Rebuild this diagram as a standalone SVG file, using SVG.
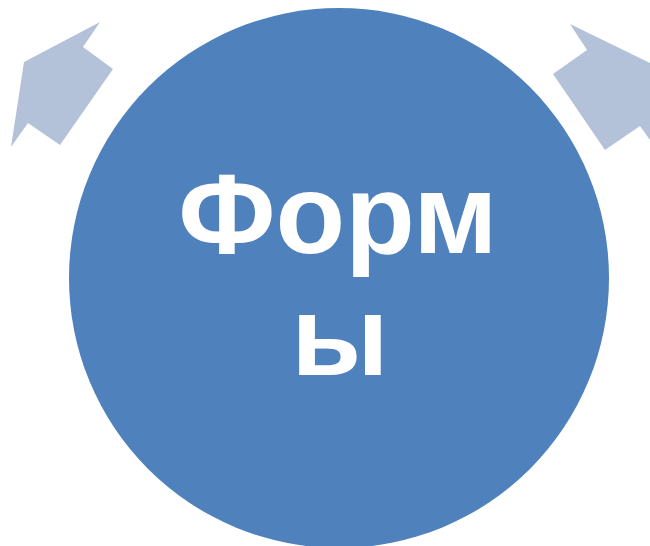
<svg xmlns="http://www.w3.org/2000/svg" width="650" height="546" viewBox="0 0 650 546">
<style>
.arrow{fill:#B3C2D9}
.lbl{font-family:"Liberation Sans",Arial,sans-serif;font-weight:bold;font-size:114px;fill:#FFFFFF;text-anchor:middle}
</style>
<rect width="650" height="546" fill="#FFFFFF"/>
<g id="connectors">
<polygon class="arrow" points="100,22 83,47 113,69 60,145 28,123 11,147 24,62"/>
<polygon class="arrow" points="570,24 587,50 553,74 605,150 640,126 650,140 650,63"/>
</g>
<g id="node-formy">
<circle cx="339" cy="278" r="270" fill="#4F81BD"/>
<text class="lbl" x="338" y="253">Форм</text>
<text class="lbl" x="340" y="375">ы</text>
</g>
</svg>
